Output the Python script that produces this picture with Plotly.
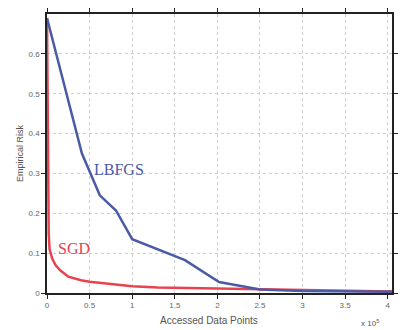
import plotly.graph_objects as go

# Data (x in units of 1e5 accessed data points)
lbfgs_x = [0.0, 0.41, 0.62, 0.81, 1.0, 1.2, 1.62, 2.02, 2.5, 3.0, 3.5, 4.05]
lbfgs_y = [0.69, 0.35, 0.245, 0.207, 0.135, 0.118, 0.0825, 0.0275, 0.009, 0.005, 0.004, 0.003]

sgd_x = [0.0, 0.005, 0.01, 0.02, 0.03, 0.06, 0.1, 0.155, 0.25, 0.4, 0.5, 0.88, 1.0, 1.3, 2.0, 2.5, 3.0, 4.05]
sgd_y = [0.69, 0.45, 0.25, 0.15, 0.11, 0.087, 0.07, 0.057, 0.041, 0.032, 0.028, 0.02, 0.017, 0.014, 0.011, 0.009, 0.007, 0.004]

x_ticks = [0, 0.5, 1, 1.5, 2, 2.5, 3, 3.5, 4]
x_labels = ["0", "0.5", "1", "1.5", "2", "2.5", "3", "3.5", "4"]
y_ticks = [0, 0.1, 0.2, 0.3, 0.4, 0.5, 0.6]
y_labels = ["0", "0.1", "0.2", "0.3", "0.4", "0.5", "0.6"]

BLUE = "#4a5ba6"
RED = "#e8424e"

fig = go.Figure()
fig.add_trace(go.Scatter(x=sgd_x, y=sgd_y, mode="lines",
                         line=dict(color=RED, width=2.5), name="SGD"))
fig.add_trace(go.Scatter(x=lbfgs_x, y=lbfgs_y, mode="lines",
                         line=dict(color=BLUE, width=2.5), name="LBFGS"))

fig.add_annotation(x=0.85, y=0.31, text="LBFGS", showarrow=False,
                   font=dict(family="Liberation Serif", size=16, color=BLUE))
fig.add_annotation(x=0.32, y=0.1125, text="SGD", showarrow=False,
                   font=dict(family="Liberation Serif", size=16, color=RED))

# axis titles
fig.add_annotation(x=(212 - 47) / 351, y=-(320 - 293) / 279, xref="paper", yref="paper",
                   text="Accessed Data Points", showarrow=False, yanchor="middle",
                   font=dict(family="Liberation Sans", size=10, color="#555555"))
fig.add_annotation(x=(387 - 47) / 351, y=-(323 - 293) / 279, xref="paper", yref="paper",
                   text="x 10<sup>5</sup>", showarrow=False, yanchor="middle",
                   font=dict(family="Liberation Sans", size=8, color="#555555"))
fig.add_annotation(x=-(47 - 12) / 351, y=0.5, xref="paper", yref="paper",
                   text="Empirical Risk", showarrow=False, textangle=-90,
                   font=dict(family="Liberation Sans", size=9, color="#555555"))

axis_common = dict(showline=True, linecolor="#222222", linewidth=1.5, mirror="ticks",
                   ticks="outside", ticklen=4, tickcolor="#222222", tickwidth=1,
                   showgrid=True, gridcolor="#cfcfcf", griddash="dot", gridwidth=1,
                   zeroline=False,
                   tickfont=dict(family="Liberation Sans", size=8, color="#666666"))

fig.update_xaxes(range=[0, 4.05], tickvals=x_ticks, ticktext=x_labels, **axis_common)
fig.update_yaxes(range=[0, 0.7], tickvals=y_ticks, ticktext=y_labels, **axis_common)

fig.update_layout(width=404, height=330, margin=dict(l=47, r=6, t=14, b=37),
                  paper_bgcolor="white", plot_bgcolor="white", showlegend=False)

fig.write_html("out.html")
